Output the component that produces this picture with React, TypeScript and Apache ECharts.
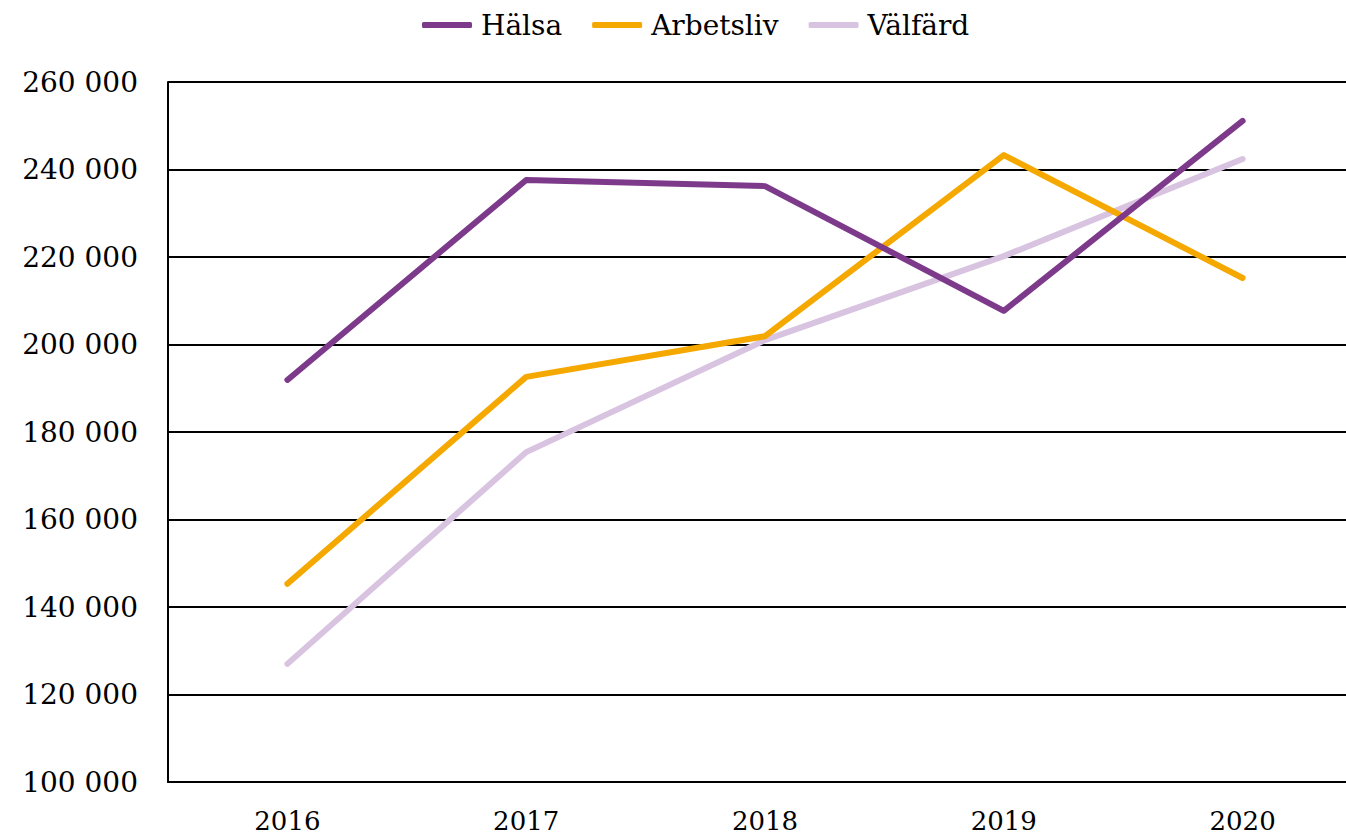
import React, { useEffect, useRef } from "react";
import * as echarts from "echarts";

const years = ["2016", "2017", "2018", "2019", "2020"];
const halsa = [191900, 237600, 236200, 207700, 251100];
const arbetsliv = [145300, 192600, 201900, 243300, 215200];
const valfard = [127000, 175400, 201000, 220200, 242400];
const seriesNames = ["Hälsa", "Arbetsliv", "Välfärd"];
const colors = ["#7D3A8B", "#F5A800", "#D8C3E0"];

const FONT = "'DejaVu Serif', Georgia, serif";

function fmt(v: number) {
  const s = String(Math.round(v));
  return s.replace(/\B(?=(\d{3})+(?!\d))/g, " ");
}

export default function App() {
  const ref = useRef<HTMLDivElement>(null);
  useEffect(() => {
    if (!ref.current) return;
    const chart = echarts.init(ref.current, undefined, { renderer: "svg" });
    const data = [halsa, arbetsliv, valfard];
    chart.setOption({
      animation: false,
      textStyle: { fontFamily: FONT },
      legend: {
        left: 417,
        top: 6,
        itemWidth: 50,
        itemHeight: 6,
        itemGap: 30,
        icon: "roundRect",
        textStyle: { fontFamily: FONT, fontSize: 28, color: "#000", padding: [0, 0, 0, 4] },
        data: seriesNames,
      },
      grid: { left: 168, right: 0, top: 82, bottom: 56, containLabel: false },
      xAxis: {
        type: "category",
        data: years,
        boundaryGap: true,
        axisLine: { lineStyle: { color: "#000", width: 2 } },
        axisTick: { show: false },
        axisLabel: { fontFamily: FONT, fontSize: 26, color: "#000", margin: 26 },
      },
      yAxis: {
        type: "value",
        min: 100000,
        max: 260000,
        interval: 20000,
        axisLine: { show: true, lineStyle: { color: "#000", width: 2 } },
        axisTick: { show: false },
        splitLine: { lineStyle: { color: "#000", width: 2 } },
        axisLabel: {
          fontFamily: FONT,
          fontSize: 28,
          color: "#000",
          margin: 30,
          formatter: (v: number) => fmt(v),
        },
      },
      series: seriesNames.map((n, i) => ({
        name: n,
        type: "line",
        data: data[i],
        symbol: "none",
        color: colors[i],
        lineStyle: { width: 6, color: colors[i], cap: "round", join: "round" },
        itemStyle: { color: colors[i] },
        z: 3 - i + 2,
      })),
    });
    return () => chart.dispose();
  }, []);
  return (
    <div style={{ position: "fixed", left: 0, top: 0, width: 1346, height: 838, overflow: "hidden", background: "#fff" }}>
      <div ref={ref} style={{ width: 1362, height: 838 }} />
    </div>
  );
}
